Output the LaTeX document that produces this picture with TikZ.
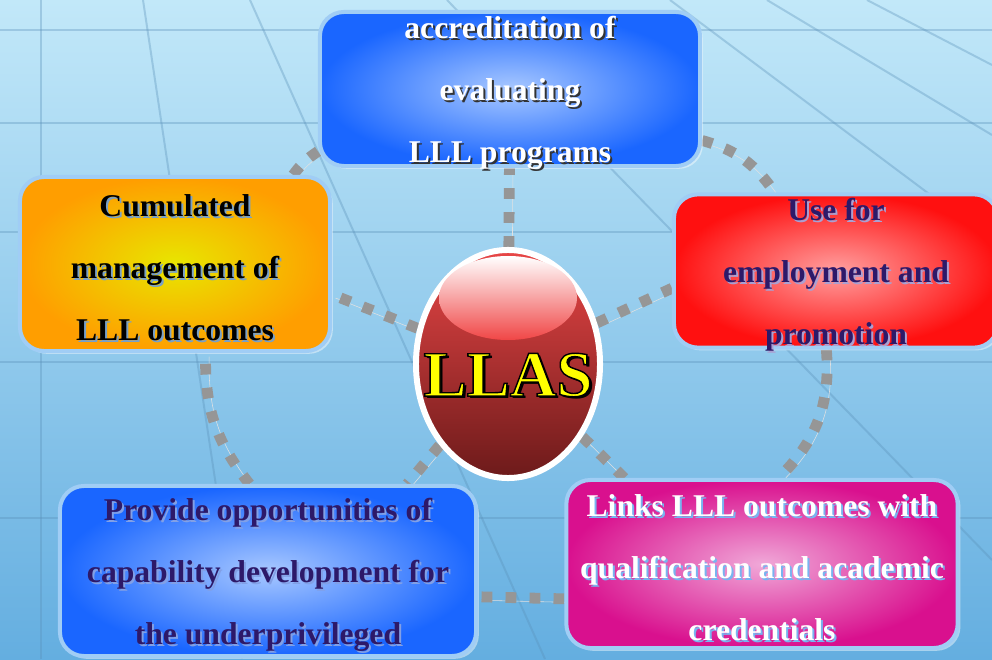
\documentclass[tikz,border=0pt]{standalone}
\usepackage{fontspec}
\setmainfont{Liberation Serif}
\usetikzlibrary{shapes.geometric,shadows}
\pgfdeclarelayer{backdrop}
\pgfdeclarelayer{wires}
\pgfsetlayers{backdrop,wires,main}
\definecolor{skytop}{RGB}{194,232,249}
\definecolor{skybot}{RGB}{100,174,224}
\definecolor{gridc}{RGB}{90,145,185}
\definecolor{rim}{RGB}{160,205,245}
\definecolor{navy}{RGB}{45,25,105}
\definecolor{dotgray}{RGB}{150,150,150}
\definecolor{dotlight}{RGB}{225,225,225}
\definecolor{blueout}{RGB}{26,102,255}
\definecolor{bluein}{RGB}{168,200,255}
\definecolor{orangeout}{RGB}{255,158,0}
\definecolor{orangein}{RGB}{232,230,0}
\definecolor{redout}{RGB}{255,16,16}
\definecolor{redin}{RGB}{255,160,160}
\definecolor{pinkout}{RGB}{217,16,142}
\definecolor{pinkin}{RGB}{240,168,216}
\definecolor{eggtop}{RGB}{232,70,70}
\definecolor{eggmid}{RGB}{198,54,56}
\definecolor{eggbot}{RGB}{108,26,26}
\definecolor{glossmid}{RGB}{246,160,160}
\definecolor{glossbot}{RGB}{240,70,70}
\definecolor{shcum}{RGB}{120,160,200}
\definecolor{shemp}{RGB}{170,160,210}
\definecolor{shopp}{RGB}{130,160,230}
\definecolor{shlinks}{RGB}{120,180,240}
\tikzset{
  box/.style={rounded corners=0.6cm, draw=rim, line width=0.1cm, inner sep=0pt,
    drop shadow={shadow xshift=0.07cm, shadow yshift=-0.07cm, fill=white, opacity=0.45}},
  lbl/.style={align=center, inner sep=0pt, font=\bfseries\fontsize{22.5}{44}\selectfont},
  llastxt/.style={inner sep=0pt, font=\bfseries\fontsize{46}{46}\selectfont},
  conn/.style={line width=0.27cm, dash pattern=on 0.27cm off 0.33cm, draw=dotgray,
    preaction={draw=dotlight, transform canvas={shift={(3.5,-3.5)}}}},
  gline/.style={draw=gridc, opacity=0.35, line width=0.05cm}
}
% text with a shadow: node, text colour, shadow colour, text
\newcommand\boxtext[4]{%
  \node[lbl, text=#3] (#1-s) at ([xshift=0.05cm,yshift=-0.15cm]#1.center) {#4};
  \node[lbl, text=#2] (#1-t) at ([yshift=-0.1cm]#1.center) {#4};}
% yellow letters with a black outline
\newcommand\outlined[1]{\special{pdf:literal direct 2 Tr 1 w 0 0 0 RG 1 1 0 rg}#1\special{pdf:literal direct 0 Tr}}
\begin{document}
\begin{tikzpicture}[x=0.025cm,y=0.025cm]
\useasboundingbox (0,0) rectangle (992,659);
\begin{pgfonlayer}{backdrop}
  \shade[top color=skytop, bottom color=skybot] (0,0) rectangle (992,659);
  \foreach \y in {629,536,427,297,141} \draw[gline] (0,\y) -- (992,\y);
  \draw[gline] (41,0) -- (41,659);
  \draw[gline] (143,659) -- (242,0);
  \draw[gline] (250,659) -- (545,0);
  \draw[gline] (447,659) -- (992,99);
  \draw[gline] (670,659) -- (992,418);
  \draw[gline] (767,659) -- (992,524);
  \draw[gline] (867,659) -- (992,594);
\end{pgfonlayer}

% boxes
\node[box, minimum width=9.5cm, minimum height=3.85cm,
  inner color=bluein, outer color=blueout] (top) at (510,570) {};
\node[box, minimum width=7.75cm, minimum height=4.35cm,
  inner color=orangein, outer color=orangeout] (cum) at (175,395) {};
\node[box, minimum width=8.1cm, minimum height=3.83cm,
  inner color=redin, outer color=redout] (emp) at (836,388) {};
\node[box, minimum width=10.4cm, minimum height=4.25cm,
  inner color=bluein, outer color=blueout] (opp) at (268,88) {};
\node[box, minimum width=9.78cm, minimum height=4.2cm,
  inner color=pinkin, outer color=pinkout] (links) at (762,95) {};

\boxtext{top}{white}{black!80}{accreditation of\\evaluating\\LLL programs}
\boxtext{cum}{black}{shcum}{Cumulated\\management of\\LLL outcomes}
\boxtext{emp}{navy}{shemp}{Use for\\employment and\\promotion}
\boxtext{opp}{navy}{shopp}{Provide opportunities of\\capability development for\\the underprivileged}
\boxtext{links}{white}{shlinks}{Links LLL outcomes with\\qualification and academic\\credentials}

% centre
\node[ellipse, draw=white, line width=0.15cm, minimum width=4.6cm, minimum height=5.7cm,
  top color=eggtop, middle color=eggmid, bottom color=eggbot] (llas) at (508,295) {};
\shade[top color=white, middle color=glossmid, bottom color=glossbot] (508,361) ellipse [x radius=69, y radius=42];
\node[llastxt, text=black] (llas-s) at (510.5,281.5) {LLAS};
\node[llastxt, text=yellow] (llas-t) at (508,284) {\outlined{LLAS}};

\begin{pgfonlayer}{wires}
  \draw[conn] (top.-15) to[bend left=20] (emp.128);
  \draw[conn] (emp.-97) to[bend left=25] (links.79);
  \draw[conn] (links.-170) -- (opp.-7);
  \draw[conn] (opp.102) to[bend left=20] (cum.-71);
  \draw[conn] (cum.37) to[bend left=10] (top.198);
  \draw[conn] (llas) -- (top);
  \draw[conn] (llas) -- (cum.-11);
  \draw[conn] (llas) -- (emp.186);
  \draw[conn] (llas) -- (opp.32);
  \draw[conn] (llas) -- (links.148);
\end{pgfonlayer}
\end{tikzpicture}
\end{document}
